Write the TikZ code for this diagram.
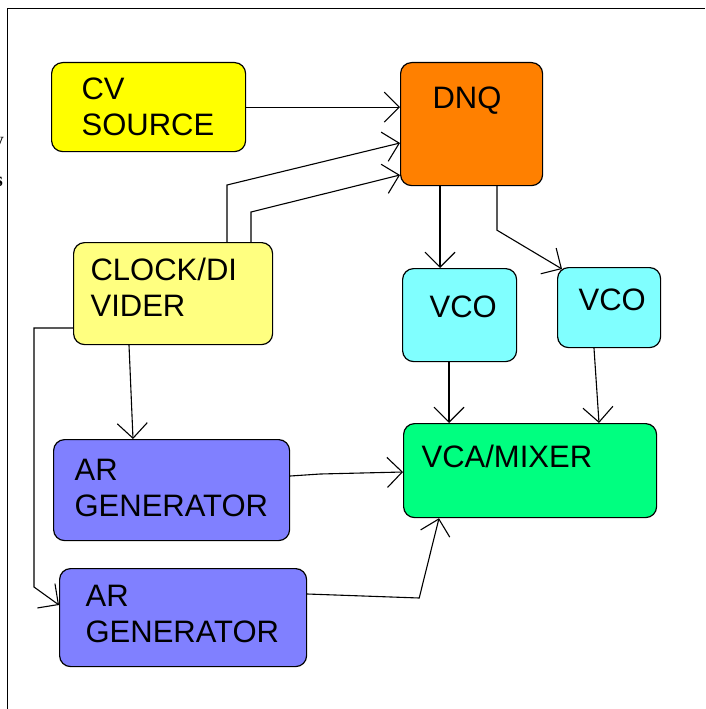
\documentclass[tikz,border=0pt]{standalone}
\usepackage{fontspec}
\setmainfont{Liberation Sans}
\newfontfamily\cutfont{Liberation Serif}
\usepackage{tikz}
\usetikzlibrary{calc,arrows.meta}
\definecolor{cvyellow}{HTML}{FFFF00}
\definecolor{dnqorange}{HTML}{FF8000}
\definecolor{clkyellow}{HTML}{FFFF80}
\definecolor{vcocyan}{HTML}{80FFFF}
\definecolor{vcagreen}{HTML}{00FF80}
\definecolor{arblue}{HTML}{8080FF}
\def\blkfont{\fontsize{31}{36}\selectfont}
\def\drawwire{\draw[line width=1.1pt, -{Straight Barb[length=15pt,width=30pt]}]}
\tikzset{
  blk/.style={draw, line width=1.2pt, rounded corners=11pt, anchor=north west,
    align=left, font=\blkfont, text height=22pt},
}

\begin{document}
\begin{tikzpicture}[x=1pt,y=-1pt]
\useasboundingbox (0,0) rectangle (705,709);
\draw[line width=1pt] (7,709) -- (7,9) -- (705,9);
\node[font=\cutfont\fontsize{20}{20}\selectfont, anchor=base east, inner sep=0pt] (cuty) at (4,146) {y};
\node[font=\cutfont\bfseries\fontsize{20}{20}\selectfont, anchor=base east, inner sep=0pt] (cuts) at (3,186) {s};
% blocks
\node[blk, fill=cvyellow, text width=134pt, inner xsep=30pt, inner ysep=15pt, text depth=37pt] (cv) at (51,62) {CV\\SOURCE};
\node[blk, fill=dnqorange, text width=78pt, inner xsep=32pt, inner ysep=24pt, text depth=53pt] (dnq) at (400,62) {DNQ};
\node[blk, fill=clkyellow, text width=165pt, inner xsep=17pt, inner ysep=16pt, text depth=48pt] (clk) at (73,242) {CLOCK/DI\\VIDER};
\node[blk, fill=vcocyan, text width=60pt, inner xsep=27pt, inner ysep=27pt, text depth=17pt] (vco1) at (402,268) {VCO};
\node[blk, fill=vcocyan, text width=61pt, inner xsep=21pt, inner ysep=21pt, text depth=16pt] (vco2) at (557,267) {VCO};
\node[blk, fill=vcagreen, text width=217pt, inner xsep=18pt, inner ysep=22pt, text depth=28pt] (vca) at (403,423) {VCA/MIXER};
\node[blk, fill=arblue, text width=194pt, inner xsep=21pt, inner ysep=19pt, text depth=41pt] (ar1) at (53,439) {AR\\GENERATOR};
\node[blk, fill=arblue, text width=195pt, inner xsep=26pt, inner ysep=16pt, text depth=44pt] (ar2) at (59,568) {AR\\GENERATOR};
% wires
\drawwire (cv.east) -- (cv.east -| dnq.west);
\drawwire ($(clk.north west)+(154,0)$) -- ++(0,-57) -- ($(dnq.north west)+(0,81)$);
\drawwire ($(clk.north west)+(178,0)$) -- ++(0,-30) -- ($(dnq.north west)+(0,113)$);
\drawwire ($(dnq.south west)+(40,0)$) coordinate (d1) -- (d1 |- vco1.north);
\drawwire ($(dnq.south west)+(97,0)$) -- ++(0,44) -- ($(vco2.north west)+(5,2)$);
\drawwire ($(clk.south west)+(56,0)$) -- ++(1,23) -- ($(ar1.north west)+(80,0)$);
\drawwire ($(clk.north west)+(0,86)$) -- ++(-39,0) -- ++(0,259) -- ($(ar2.north west)+(0,37)$);
\drawwire ($(ar1.north east)+(0,37)$) -- ++(30,-2) -- ($(vca.north west)+(0,49)$);
\drawwire ($(ar2.north east)+(0,26)$) -- ++(112,4) -- ($(vca.south west)+(36,0)$);
\drawwire ($(vco1.south west)+(47,0)$) coordinate (v1) -- (v1 |- vca.north);
\drawwire ($(vco2.south west)+(37,0)$) -- ($(vca.north west)+(196,0)$);
\end{tikzpicture}
\end{document}
